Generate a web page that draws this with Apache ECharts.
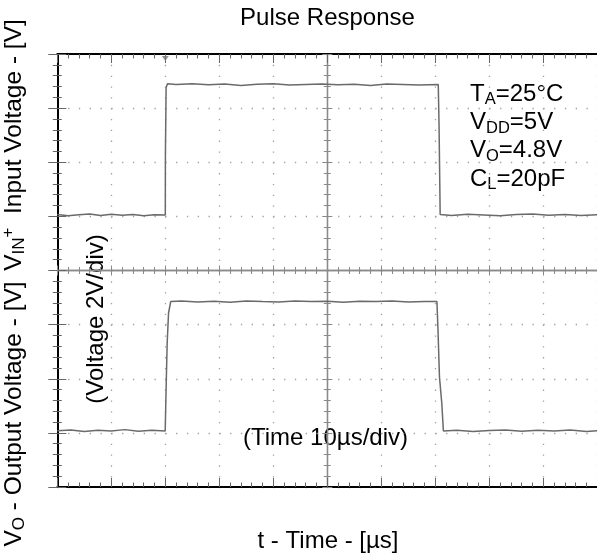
<!DOCTYPE html>
<html><head><meta charset="utf-8">
<script src="https://cdn.jsdelivr.net/npm/echarts@6/dist/echarts.min.js"></script>
<style>html,body{margin:0;padding:0;background:#fff}#c{width:597px;height:560px}</style>
</head><body><div id="c"></div>
<script>
// Time axis: 10 µs/div, 10 divisions; voltage axis: 2 V/div, 8 divisions
const timeRange = [0, 100];
const voltRange = [0, 16];
const timeDiv = 10;
const voltDiv = 2;

// Input pulse V_IN+ (V) vs time (µs)
const inTime = [0, 2, 4, 6, 8, 10, 12, 14, 16, 18, 20.0, 20.02, 20.15, 20.4, 22, 25, 28, 31, 34, 37, 40, 43, 46, 49, 52, 55, 58, 61, 64, 67, 70.55, 70.7, 70.9, 73, 76, 79, 82, 85, 88, 91, 94, 97, 100];
const inVolt = [0.02, -0.03, 0.01, 0.04, -0.02, 0.03, -0.01, 0.02, -0.03, 0.01, 0.0, 2.2, 4.7, 4.85, 4.82, 4.85, 4.81, 4.84, 4.79, 4.83, 4.85, 4.80, 4.82, 4.84, 4.81, 4.83, 4.79, 4.84, 4.82, 4.80, 4.82, 3.25, 0.02, -0.02, 0.03, 0.0, -0.03, 0.02, 0.04, -0.01, 0.02, -0.02, 0.01];

// Output V_O (V) vs time (µs)
const outTime = [0, 2.5, 5, 7.5, 10, 12.5, 15, 17.5, 19.98, 20.2, 20.35, 20.6, 21.0, 23, 26, 29, 32, 35, 38, 41, 44, 47, 50, 53, 56, 59, 62, 65, 68, 70.3, 70.5, 70.77, 71.2, 71.5, 74, 77, 80, 83, 86, 89, 92, 95, 98, 100];
const outVolt = [0.01, 0.04, -0.02, 0.03, 0.0, 0.05, -0.01, 0.03, 0.0, 2.01, 3.25, 4.36, 4.78, 4.80, 4.77, 4.79, 4.76, 4.80, 4.78, 4.77, 4.80, 4.78, 4.79, 4.76, 4.79, 4.78, 4.80, 4.77, 4.78, 4.78, 3.73, 2.0, 1.03, 0.0, 0.03, -0.02, 0.02, 0.04, -0.01, 0.03, 0.0, 0.04, -0.02, 0.01];

// Trigger marker time (µs)
const triggerTime = [20];

// Channel screen positions (V on screen scale)
const inOffset = 10.05, outOffset = 2.07;

const FONT = '"Liberation Sans", Arial, sans-serif';
const chart = echarts.init(document.getElementById('c'), null, {renderer: 'canvas'});

const G = {left: 57.3, top: 54, width: 540, height: 433};

function xAx(pos, opts) {
  return Object.assign({
    type: 'value', min: timeRange[0], max: timeRange[1], interval: timeDiv, position: pos,
    axisLine: {show: true, onZero: false, lineStyle: {color: '#000', width: 2}},
    axisTick: {show: true, inside: true, length: 9, lineStyle: {color: '#666', width: 1}},
    minorTick: {show: true, splitNumber: 5, length: 4.5, lineStyle: {color: '#666', width: 1}},
    axisLabel: {show: false}, splitLine: {show: false}, minorSplitLine: {show: false}
  }, opts || {});
}
function yAx(pos, opts) {
  return Object.assign({
    type: 'value', min: voltRange[0], max: voltRange[1], interval: voltDiv, position: pos,
    axisLine: {show: true, onZero: false, lineStyle: {color: '#000', width: 2}},
    axisTick: {show: true, inside: true, length: 9, lineStyle: {color: '#666', width: 1}},
    minorTick: {show: true, splitNumber: 5, length: 4.5, lineStyle: {color: '#666', width: 1}},
    axisLabel: {show: false}, splitLine: {show: false}, minorSplitLine: {show: false}
  }, opts || {});
}
const centerLine = {show: true, onZero: false, lineStyle: {color: '#8a8a8a', width: 1.3}};
const cTick = (inside) => ({show: true, inside: inside, length: 5, lineStyle: {color: '#8a8a8a', width: 1}});
const cMinor = {show: true, splitNumber: 5, length: 3.5, lineStyle: {color: '#8a8a8a', width: 1}};

const option = {
  animation: false,
  backgroundColor: '#fff',
  grid: Object.assign({outerBoundsMode: 'none', containLabel: false}, G),
  xAxis: [
    xAx('bottom', {splitLine: {show: true, lineStyle: {color: '#a0a0a0', width: 1.3, type: [1.3, 9.525]}}}),
    xAx('top'),
    xAx('bottom', {offset: -G.height / 2, axisLine: centerLine, axisTick: cTick(true), minorTick: cMinor}),
    xAx('bottom', {offset: -G.height / 2, axisLine: centerLine, axisTick: cTick(false), minorTick: cMinor})
  ],
  yAxis: [
    yAx('left', {splitLine: {show: true, lineStyle: {color: '#a0a0a0', width: 1.3, type: [1.3, 9.5]}}}),
    yAx('right', {axisLine: {show: false}}),
    yAx('left', {offset: -G.width / 2, axisLine: centerLine, axisTick: cTick(true), minorTick: cMinor}),
    yAx('left', {offset: -G.width / 2, axisLine: centerLine, axisTick: cTick(false), minorTick: cMinor})
  ],
  series: [
    {type: 'line', xAxisIndex: 0, yAxisIndex: 0, showSymbol: false, z: 5,
     lineStyle: {color: '#6a6a6a', width: 1.5},
     data: inTime.map((t, i) => [t, inVolt[i] + inOffset])},
    {type: 'line', xAxisIndex: 0, yAxisIndex: 0, showSymbol: false, z: 5,
     lineStyle: {color: '#6a6a6a', width: 1.5},
     data: outTime.map((t, i) => [t, outVolt[i] + outOffset])},
    {type: 'scatter', xAxisIndex: 0, yAxisIndex: 0, symbol: 'triangle', symbolRotate: 180,
     symbolSize: [7, 5], itemStyle: {color: '#777'}, z: 6,
     data: triggerTime.map(t => [t, voltRange[1] - 0.17])}
  ],
  graphic: [
    {type: 'text', x: 327.5, y: 18, style: {text: 'Pulse Response', fill: '#000', font: '24px ' + FONT, align: 'center', verticalAlign: 'middle'}},
    {type: 'text', x: 328, y: 541, style: {text: 't - Time - [µs]', fill: '#000', font: '24px ' + FONT, align: 'center', verticalAlign: 'middle'}},
    {type: 'text', x: 243, y: 438, style: {text: '(Time 10µs/div)', fill: '#000', font: '24px ' + FONT, align: 'left', verticalAlign: 'middle'}},
    {type: 'text', x: 96, y: 319, rotation: Math.PI / 2, style: {text: '(Voltage 2V/div)', fill: '#000', font: '24px ' + FONT, align: 'center', verticalAlign: 'middle'}},
    {type: 'text', x: 470, y: 80, style: {
      text: '{m|T}{s|A}{m|=25°C}\n{m|V}{s|DD}{m|=5V}\n{m|V}{s|O}{m|=4.8V}\n{m|C}{s|L}{m|=20pF}',
      fill: '#000', align: 'left', verticalAlign: 'top',
      rich: {
        m: {fontSize: 24, lineHeight: 28.3, fontFamily: FONT, fill: '#000'},
        s: {fontSize: 16.5, lineHeight: 14, fontFamily: FONT, fill: '#000', verticalAlign: 'bottom'}
      }}},
    {type: 'text', x: 14, y: 414, rotation: Math.PI / 2, style: {
      text: '{m|V}{s|O}{m| - Output Voltage - [V]}',
      fill: '#000', align: 'center', verticalAlign: 'middle',
      rich: {
        m: {fontSize: 24.5, lineHeight: 28, fontFamily: FONT, fill: '#000'},
        s: {fontSize: 17, lineHeight: 14, fontFamily: FONT, fill: '#000', verticalAlign: 'bottom'}
      }}},
    {type: 'text', x: 14, y: 145, rotation: Math.PI / 2, style: {
      text: '{m|V}{s|IN}{p|+}{m|  Input Voltage - [V]}',
      fill: '#000', align: 'center', verticalAlign: 'middle',
      rich: {
        m: {fontSize: 24.5, lineHeight: 28, fontFamily: FONT, fill: '#000'},
        s: {fontSize: 17, lineHeight: 14, fontFamily: FONT, fill: '#000', verticalAlign: 'bottom'},
        p: {fontSize: 17, lineHeight: 14, fontFamily: FONT, fill: '#000', verticalAlign: 'top'}
      }}}
  ]
};
chart.setOption(option);
</script>
</body></html>
